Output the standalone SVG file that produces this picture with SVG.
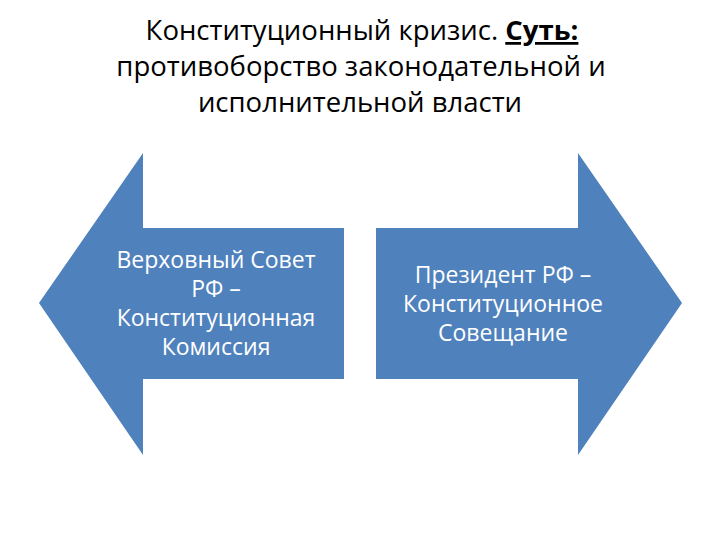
<svg xmlns="http://www.w3.org/2000/svg" width="720" height="540" viewBox="0 0 720 540">
<style>
.title{font-family:"Open Sans","Liberation Sans",Arial,sans-serif;font-size:27.5px;fill:#000;text-anchor:middle}
.lbl{font-family:"Open Sans","Liberation Sans",Arial,sans-serif;font-size:23px;fill:#fff;text-anchor:middle}
.arrow{fill:#4F81BD}
</style>
<rect width="720" height="540" fill="#fff"/>
<g id="title">
<text class="title" x="362" y="40">Конституционный кризис. <tspan font-weight="bold" text-decoration="underline">Суть:</tspan></text>
<text class="title" x="361" y="76">противоборство законодательной и</text>
<text class="title" x="360" y="112">исполнительной власти</text>
</g>
<g id="left">
<polygon class="arrow" points="39,303 143,153 143,228 344,228 344,379 143,379 143,455"/>
<text class="lbl" x="216" y="268">Верховный Совет</text>
<text class="lbl" x="216" y="297">РФ –</text>
<text class="lbl" x="216" y="326">Конституционная</text>
<text class="lbl" x="216" y="355">Комиссия</text>
</g>
<g id="right">
<polygon class="arrow" points="682,303 578,153 578,228 376,228 376,379 578,379 578,455"/>
<text class="lbl" x="503" y="283">Президент РФ –</text>
<text class="lbl" x="503" y="312">Конституционное</text>
<text class="lbl" x="503" y="341">Совещание</text>
</g>
</svg>
